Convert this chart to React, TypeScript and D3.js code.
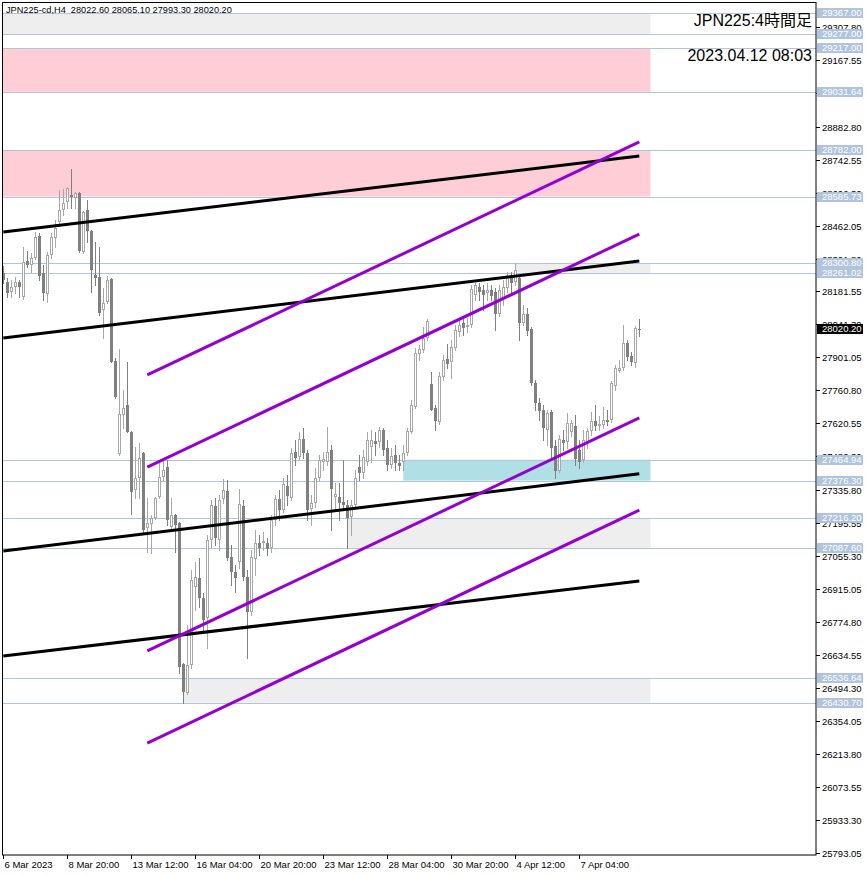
import { scaleLinear } from "d3";

const W = 866;
const H = 876;

const title = "JPN225-cd,H4  28022.60 28065.10 27993.30 28020.20";
const symbolLabel = "JPN225:4時間足";
const stampLabel = "2023.04.12 08:03";

// time axis labels and the bar they sit on
const dateLabels = ["6 Mar 2023", "8 Mar 20:00", "13 Mar 12:00", "16 Mar 04:00", "20 Mar 20:00", "23 Mar 12:00", "28 Mar 04:00", "30 Mar 20:00", "4 Apr 12:00", "7 Apr 04:00"];
const dateLabelBars = [0, 16, 32, 48, 64, 80, 96, 112, 128, 144];

// H4 candles
const opens = [
  28260, 28222, 28179, 28200, 28222, 28158, 28311, 28294, 28324, 28417,
  28260, 28170, 28337, 28409, 28477, 28528, 28562, 28592, 28579, 28600,
  28349, 28528, 28439, 28251, 28243, 28102, 28136, 28234, 27885, 27489,
  27656, 27698, 27583, 27336, 27387, 27494, 27174, 27191, 27217, 27306,
  27391, 27434, 27179, 27230, 27196, 26596, 26472, 26591, 26923, 26962,
  26876, 26791, 27123, 27268, 27123, 27298, 27332, 27051, 26987, 27030,
  27268, 26966, 26817, 27042, 27110, 27110, 27110, 27089, 27208, 27298,
  27251, 27353, 27302, 27498, 27477, 27553, 27494, 27255, 27281, 27387,
  27455, 27455, 27506, 27306, 27306, 27285, 27272, 27221, 27272, 27434,
  27408, 27455, 27519, 27545, 27540, 27592, 27515, 27443, 27485, 27451,
  27455, 27494, 27583, 27690, 27915, 27932, 27983, 27787, 27685, 27626,
  27817, 27894, 27881, 27941, 28009, 28047, 28030, 28039, 28166, 28200,
  28188, 28175, 28188, 28179, 28085, 28153, 28196, 28239, 28222, 28239,
  28047, 28085, 28021, 27792, 27706, 27677, 27592, 27668, 27523, 27417,
  27549, 27540, 27583, 27609, 27506, 27464, 27540, 27587, 27630, 27609,
  27613, 27634, 27634, 27779, 27843, 27855, 27962, 27907, 27877, 28022.6,
];
const highs = [
  28290, 28239, 28230, 28243, 28230, 28371, 28354, 28345, 28434, 28430,
  28294, 28349, 28430, 28486, 28613, 28618, 28625, 28703, 28605, 28605,
  28522, 28571, 28442, 28392, 28371, 28196, 28247, 28238, 27898, 27936,
  27762, 27881, 27587, 27519, 27536, 27498, 27302, 27230, 27306, 27451,
  27472, 27464, 27302, 27233, 27200, 26598, 26761, 26996, 27030, 27047,
  26898, 27145, 27294, 27302, 27315, 27383, 27379, 27102, 27017, 27340,
  27294, 26996, 27081, 27166, 27145, 27157, 27132, 27230, 27315, 27336,
  27387, 27400, 27515, 27549, 27583, 27600, 27506, 27315, 27430, 27485,
  27498, 27604, 27528, 27366, 27366, 27464, 27294, 27294, 27421, 27485,
  27506, 27583, 27592, 27583, 27604, 27600, 27549, 27515, 27528, 27485,
  27528, 27600, 27720, 27941, 27953, 28030, 28064, 27838, 27698, 27838,
  27911, 27958, 27975, 28039, 28068, 28068, 28068, 28209, 28217, 28217,
  28209, 28217, 28209, 28196, 28209, 28230, 28264, 28264, 28301, 28251,
  28124, 28111, 28030, 27804, 27728, 27698, 27677, 27677, 27549, 27570,
  27592, 27664, 27634, 27655, 27549, 27592, 27600, 27668, 27698, 27651,
  27690, 27677, 27800, 27868, 27890, 28039, 27975, 27924, 28034, 28065.1,
];
const lows = [
  28217, 28158, 28158, 28175, 28158, 28150, 28285, 28264, 28320, 28230,
  28145, 28136, 28324, 28371, 28475, 28507, 28537, 28537, 28537, 28350,
  28345, 28392, 28179, 28209, 28081, 27983, 28132, 27880, 27728, 27485,
  27600, 27583, 27234, 27302, 27302, 27157, 27072, 27068, 27213, 27302,
  27379, 27187, 27174, 27072, 26557, 26431, 26468, 26578, 26825, 26838,
  26740, 26664, 27093, 27102, 27081, 27281, 27038, 26932, 26902, 27004,
  26953, 26621, 26804, 26974, 27059, 27081, 27059, 27072, 27187, 27208,
  27243, 27272, 27294, 27443, 27464, 27472, 27208, 27187, 27264, 27379,
  27421, 27443, 27166, 27251, 27208, 27251, 27089, 27145, 27259, 27379,
  27387, 27443, 27455, 27485, 27519, 27485, 27421, 27430, 27421, 27421,
  27421, 27485, 27579, 27685, 27890, 27924, 27975, 27677, 27592, 27617,
  27804, 27855, 27813, 27932, 27992, 27996, 28009, 28030, 28145, 28145,
  28102, 28145, 28145, 28017, 28077, 28124, 28179, 28179, 28209, 27975,
  28039, 27996, 27783, 27677, 27634, 27549, 27528, 27464, 27387, 27413,
  27506, 27515, 27566, 27443, 27430, 27455, 27515, 27570, 27592, 27592,
  27600, 27613, 27626, 27762, 27838, 27847, 27890, 27868, 27860, 27993.3,
];
const closes = [
  28230, 28175, 28200, 28222, 28200, 28307, 28294, 28324, 28413, 28247,
  28175, 28337, 28413, 28451, 28528, 28558, 28620, 28583, 28600, 28354,
  28520, 28439, 28273, 28239, 28090, 28132, 28230, 27881, 27732, 27660,
  27685, 27583, 27328, 27387, 27472, 27166, 27196, 27217, 27302, 27391,
  27421, 27208, 27230, 27187, 26583, 26476, 26591, 26953, 26966, 26876,
  26783, 27123, 27272, 27132, 27294, 27336, 27047, 26987, 26962, 27277,
  26966, 26817, 27051, 27110, 27089, 27119, 27085, 27208, 27298, 27251,
  27362, 27311, 27494, 27472, 27553, 27494, 27251, 27281, 27387, 27464,
  27468, 27498, 27340, 27319, 27281, 27272, 27217, 27272, 27387, 27408,
  27477, 27549, 27549, 27532, 27592, 27506, 27443, 27481, 27451, 27438,
  27494, 27587, 27698, 27919, 27936, 27983, 28056, 27677, 27630, 27821,
  27890, 27873, 27945, 28017, 28039, 28026, 28039, 28192, 28209, 28179,
  28166, 28188, 28162, 28085, 28188, 28200, 28239, 28217, 28273, 28047,
  28085, 28013, 27792, 27706, 27672, 27600, 27664, 27515, 27417, 27553,
  27536, 27621, 27621, 27468, 27455, 27549, 27587, 27630, 27609, 27617,
  27634, 27626, 27792, 27855, 27855, 27962, 27902, 27881, 28026, 28020.2,
];

// price axis
const priceTicks = [29307.8, 29167.55, 29027.3, 28882.8, 28742.55, 28602.3, 28462.05, 28321.8, 28181.55, 28041.3, 27901.05, 27760.8, 27620.55, 27480.3, 27335.8, 27195.55, 27055.3, 26915.05, 26774.8, 26634.55, 26494.3, 26354.05, 26213.8, 26073.55, 25933.3, 25793.05];
const levelPrices = [29367.0, 29277.0, 29217.0, 29031.64, 28782.0, 28585.73, 28300.8, 28261.02, 27464.94, 27376.3, 27216.2, 27087.6, 26536.64, 26430.7];
const lastPrice = 28020.2;

// rectangles: price band, first bar, last bar, kind
const zoneTops = [29367.0, 29217.0, 28782.0, 28300.8, 27464.94, 27216.2, 26536.64];
const zoneBottoms = [29277.0, 29031.64, 28585.73, 28261.02, 27376.3, 27087.6, 26430.7];
const zoneFrom = [-2, -2, -2, 128, 100, 86, 45];
const zoneTo = [161.8, 161.8, 161.8, 161.8, 161.8, 161.8, 161.8];
const zoneKinds = ["gray", "pink", "pink", "gray", "cyan", "gray", "gray"];

// trend lines: [bar, price, bar, price]
const blackLines = [
  [0, 28435, 159, 28758],
  [0, 27983, 159, 28311],
  [0, 27077, 159, 27405],
  [0, 26630, 159, 26949],
];
const purpleLines = [
  [36, 27826, 159, 28818],
  [36, 27434, 159, 28426],
  [36, 26651, 159, 27643],
  [36, 26259, 159, 27251],
];

const zoneColor: Record<string, string> = { gray: "#eeeeee", pink: "#ffcdd6", cyan: "#b0e0e6" };
const levelColor = "#b0c4de";
const fmt = (v: number) => v.toFixed(2);
const crisp = (v: number) => Math.round(v) + 0.5;

export default function App() {
  const x = scaleLinear().domain([0, 159]).range([3.3, 639.3]);
  const y = scaleLinear().domain([25793.05, 29307.8]).range([852.5, 26.9]);
  const left = 2, top = 2, right = 816, bottom = 855;

  return (
    <div style={{ position: "absolute", left: 0, top: 0, width: W, height: H, background: "#fff" }}>
      <svg width={W} height={H} style={{ display: "block", fontFamily: "'Liberation Sans', Arial, 'Noto Sans CJK JP', sans-serif" }}>
        <defs>
          <clipPath id="plot">
            <rect x={left} y={top} width={right - left} height={bottom - top} />
          </clipPath>
        </defs>
        <rect width={W} height={H} fill="#fff" />

        <g clipPath="url(#plot)">
          {/* zones */}
          {zoneTops.map((t, i) => (
            <rect
              key={"z" + i}
              x={Math.max(left, x(zoneFrom[i]))}
              y={y(t)}
              width={x(zoneTo[i]) - Math.max(left, x(zoneFrom[i]))}
              height={y(zoneBottoms[i]) - y(t)}
              fill={zoneColor[zoneKinds[i]]}
            />
          ))}
          {/* horizontal levels */}
          {levelPrices.map((p, i) => (
            <line key={"l" + i} x1={left} x2={right} y1={crisp(y(p))} y2={crisp(y(p))} stroke={levelColor} strokeWidth={1} />
          ))}
          {/* candles */}
          {opens.map((o, i) => {
            const c = closes[i];
            const cx = crisp(x(i));
            const hi = Math.max(highs[i], o, c);
            const lo = Math.min(lows[i], o, c);
            const up = c >= o;
            const col = up ? "#a8a8a8" : "#808080";
            const yTop = Math.round(y(Math.max(o, c)));
            const yBot = Math.round(y(Math.min(o, c)));
            const h = Math.max(1, yBot - yTop);
            return (
              <g key={"c" + i}>
                <line x1={cx} x2={cx} y1={Math.round(y(hi))} y2={Math.round(y(lo)) + 1} stroke={col} strokeWidth={1} />
                {up ? (
                  <rect x={cx - 1} y={yTop + 0.5} width={2} height={Math.max(0, h - 1)} fill="#fff" stroke={col} strokeWidth={1} />
                ) : (
                  <rect x={cx - 1.5} y={yTop} width={3} height={h} fill={col} />
                )}
              </g>
            );
          })}
          {/* trend lines */}
          {blackLines.map((l, i) => (
            <line key={"b" + i} x1={x(l[0])} y1={y(l[1])} x2={x(l[2])} y2={y(l[3])} stroke="#000" strokeWidth={3} />
          ))}
          {purpleLines.map((l, i) => (
            <line key={"p" + i} x1={x(l[0])} y1={y(l[1])} x2={x(l[2])} y2={y(l[3])} stroke="#9400d3" strokeWidth={3} />
          ))}
        </g>

        {/* frame */}
        <rect x={left + 0.5} y={top + 0.5} width={right - left - 0.5} height={bottom - top - 0.5} fill="none" stroke="#000" strokeWidth={1} />

        {/* header texts */}
        <text x={6} y={13} fontSize={9.2} fill="#000" style={{ whiteSpace: "pre" }}>{title}</text>
        <text x={812} y={26} fontSize={16} textAnchor="end" fill="#000" fontFamily="'Liberation Sans', 'Noto Sans CJK JP', sans-serif">{symbolLabel}</text>
        <text x={812} y={61} fontSize={16} textAnchor="end" fill="#000">{stampLabel}</text>

        {/* price axis */}
        {priceTicks.map((p, i) => {
            const ty = crisp(y(p));
            return (
              <g key={"t" + i}>
                <line x1={816} x2={820} y1={ty} y2={ty} stroke="#000" />
                <text x={822} y={ty} dy="0.35em" fontSize={9.5} fill="#000">{fmt(p)}</text>
              </g>
            );
          })}
        {levelPrices.map((p, i) => {
          const ly = y(p);
          return (
            <g key={"lb" + i}>
              <rect x={817} y={Math.round(ly) - 5} width={46} height={10} fill={levelColor} />
              <text x={822} y={Math.round(ly)} dy="0.35em" fontSize={9.5} fill="#fff">{fmt(p)}</text>
            </g>
          );
        })}
        <rect x={817} y={Math.round(y(lastPrice)) - 5} width={46} height={10} fill="#000" />
        <text x={822} y={Math.round(y(lastPrice))} dy="0.35em" fontSize={9.5} fill="#fff">{fmt(lastPrice)}</text>

        {/* time axis */}
        {dateLabels.map((d, i) => {
          const tx = crisp(x(dateLabelBars[i]));
          return (
            <g key={"d" + i}>
              <line x1={tx} x2={tx} y1={855} y2={859} stroke="#000" />
              <text x={tx + 1} y={868} fontSize={9.5} fill="#000">{d}</text>
            </g>
          );
        })}
      </svg>
    </div>
  );
}
